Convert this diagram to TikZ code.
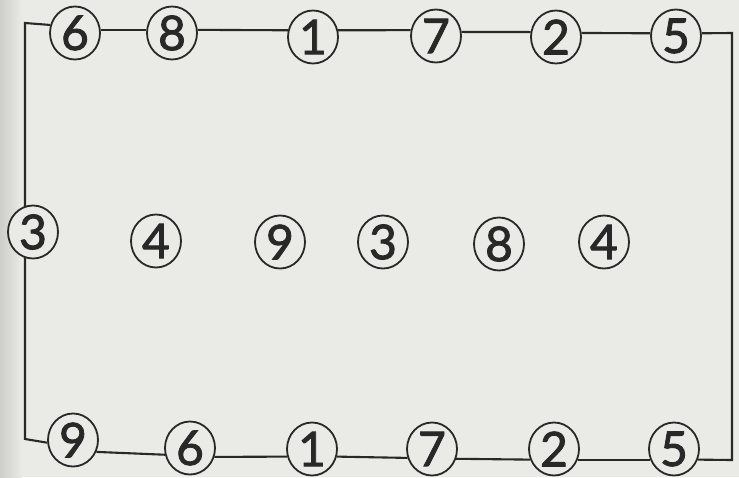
\documentclass[tikz,border=0pt]{standalone}
\usepackage{fontspec}
\setmainfont{Lato}
\newfontfamily\numfont{Lato}[FakeBold=1.8]
\usetikzlibrary{shapes.geometric, backgrounds}
\definecolor{paper}{RGB}{234,234,231}
\definecolor{gutter}{RGB}{205,205,202}
\definecolor{ink}{RGB}{40,40,40}

\begin{document}
\begin{tikzpicture}[
    x=1pt, y=-1pt,
    num/.style={ellipse, draw=ink, line width=1.8pt, fill=paper, minimum width=50pt, minimum height=53pt, inner sep=0pt, font=\numfont\fontsize{48}{48}\selectfont, text=ink},
    frame/.style={draw=ink, line width=2.1pt}
]

\useasboundingbox (0,0) rectangle (739,477);

% Top row
\foreach \n/\x/\y [count=\i] in {6/75/33, 8/172/33, 1/313/37, 7/436/36, 2/556/37, 5/676/36}
    \node[num] (t\i) at (\x,\y) {\n};

% Middle row
\foreach \n/\x/\y [count=\i] in {3/33/232, 4/156/241, 9/280/242, 3/383/242, 8/499/244, 4/604/242}
    \node[num] (m\i) at (\x,\y) {\n};

% Bottom row
\foreach \n/\x/\y [count=\i] in {9/73/440, 6/190/448, 1/312/449, 7/432/449, 2/554/449, 5/674/449}
    \node[num] (b\i) at (\x,\y) {\n};

% Corners
\coordinate (tl) at (25,23);
\coordinate (tr) at (732,33);
\coordinate (br) at (732,460);
\coordinate (bl) at (25,439);

% Frame
\begin{pgfonlayer}{background}
\fill[paper] (0,0) rectangle (739,477);
\shade[left color=gutter, right color=paper] (0,0) rectangle (22,477);
\draw[frame] (b1.186) -- (bl) -- (tl) -- (t1.162);
\draw[frame] (t1.7) -- (t2.173);
\draw[frame] (t2.7) -- (t3.165);
\draw[frame] (t3.15) -- (t4.167);
\draw[frame] (t4.9) -- (t5.169);
\draw[frame] (t5.9) -- (t6.174);
\draw[frame] (t6.6) -- (tr) -- (br) -- (b6.336);
\draw[frame] (b6.204) -- (b5.336);
\draw[frame] (b5.204) -- (b4.338);
\draw[frame] (b4.200) -- (b3.343);
\draw[frame] (b3.197) -- (b2.340);
\draw[frame] (b2.195) -- (b1.333);
\end{pgfonlayer}

\end{tikzpicture}
\end{document}
